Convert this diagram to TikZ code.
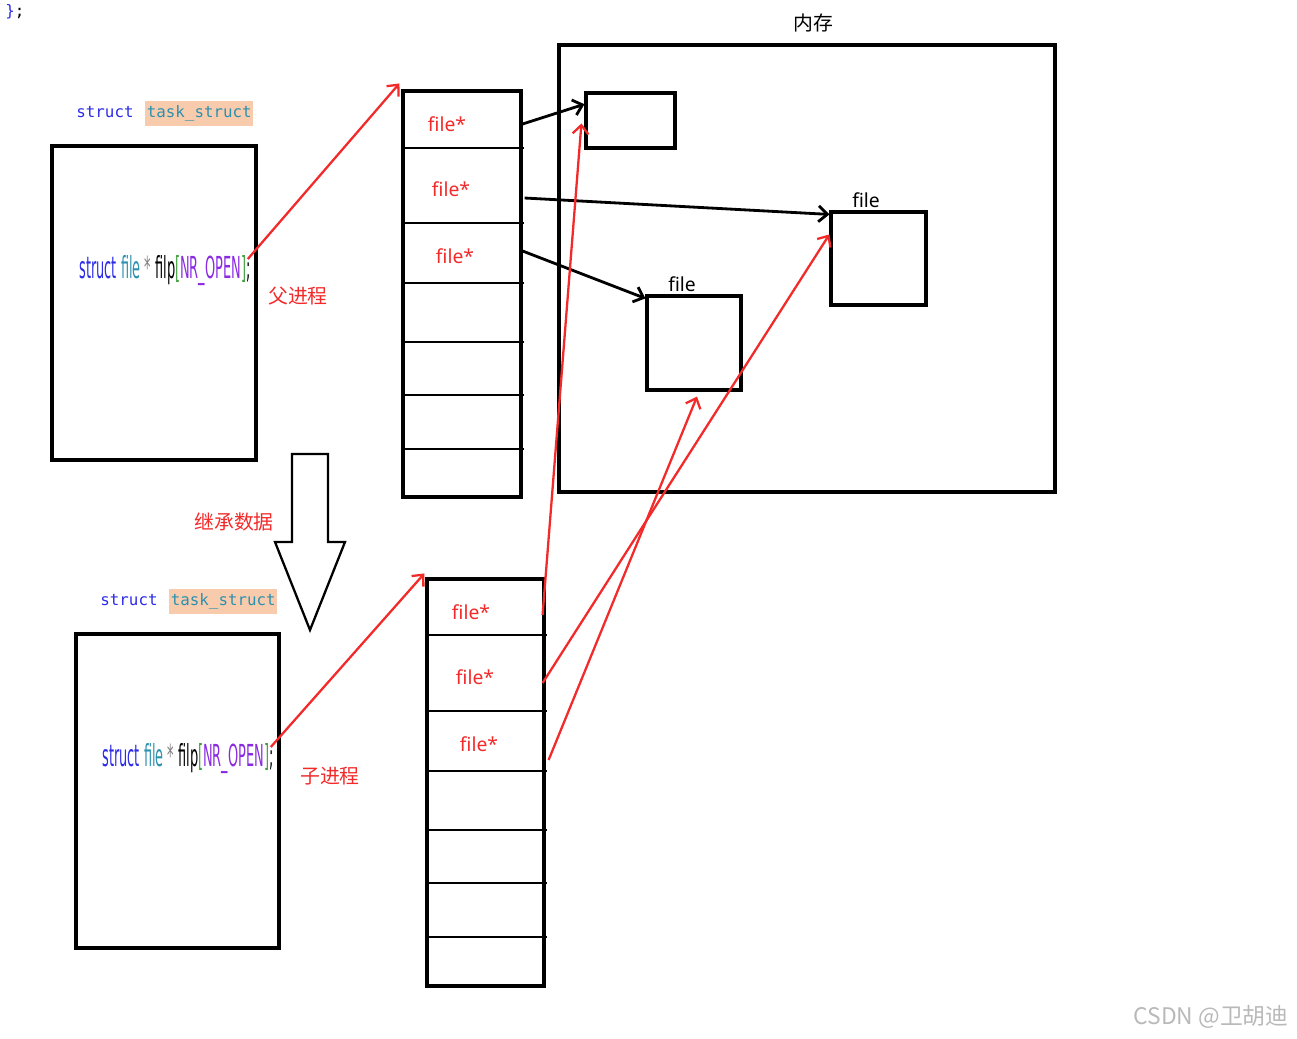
\documentclass[tikz,border=0pt]{standalone}
\usepackage{fontspec}
\usepackage{graphicx}
\setmainfont{Noto Sans}
\newfontfamily\cjk{Noto Sans CJK SC}
\newfontfamily\codefont{DejaVu Sans}
\newfontfamily\monofont{DejaVu Sans Mono}
\usetikzlibrary{arrows.meta,positioning,calc,fit}
\definecolor{cRED}{HTML}{F22A2A}
\definecolor{cKW}{HTML}{2B2BE8}
\definecolor{cTY}{HTML}{2B91AF}
\definecolor{cBG}{HTML}{F8CBAD}
\definecolor{cMAC}{HTML}{8A2BE2}
\definecolor{cBR}{HTML}{3C9E3C}
\newcommand{\filpdecl}{\scalebox{0.49}[1.15]{\codefont\fontsize{15}{15}\selectfont
  \textcolor{cKW}{struct} \textcolor{cTY}{file} \textcolor{gray}{*} filp\textcolor{cBR}{[}\textcolor{cMAC}{NR\_OPEN}\textcolor{cBR}{]};}}

\begin{document}
\begin{tikzpicture}[x=0.02cm, y=-0.02cm, line width=1.6pt,
  >={Straight Barb[length=5pt,width=9pt]},
  box/.style={draw, line width=1.8pt, inner sep=0pt},
  ptr/.style={text=cRED, font=\fontsize{11}{13}\selectfont},
  fname/.style={font=\fontsize{11}{13}\selectfont},
  zh/.style={font=\cjk\fontsize{11.3}{13}\selectfont},
  kw/.style={inner sep=0pt, text=cKW, font=\monofont\fontsize{9}{11}\selectfont},
  ty/.style={inner xsep=1pt, inner ysep=2.5pt, fill=cBG, text=cTY, font=\monofont\fontsize{9}{11}\selectfont},
  copy/.style={->, cRED, line width=1.3pt}]
\useasboundingbox (0,0) rectangle (1297,1038);
\node[anchor=north west, inner sep=0pt, font=\monofont\fontsize{9}{11}\selectfont] (brace) at (4,3) {\textcolor{cKW}{\}};};

% parent process
\node[kw] (pkw) at (105,112) {struct};
\node[ty, base right=5pt of pkw] (ptype) {task\_struct};
\node[box, fit={(52,146) (256,460)}] (pbox) {};
\node (pfilp) at (165,271) {\filpdecl};
\node[zh, text=cRED] (pname) at (298,296) {父进程};
\node[box, fit={(403,91) (521,497)}] (ptab) {};
\foreach \y in {148,223,283,342,395,449}
  \draw (403,\y) -- (524,\y);
\node[ptr] (pc1) at (447,124) {file*};
\node[ptr] (pc2) at (451,189) {file*};
\node[ptr] (pc3) at (455,256) {file*};

% memory
\node[box, fit={(559,45) (1055,492)}] (mem) {};
\node[zh] (memname) at (813,23) {内存};
\node[box, fit={(586,93) (675,148)}] (fbuf) {};
\node[box, fit={(831,212) (926,305)}] (fright) {};
\node[fname] (frightname) at (866,200) {file};
\node[box, fit={(647,296) (741,390)}] (fmid) {};
\node[fname] (fmidname) at (682,284) {file};

\draw[->] (pc1 -| ptab.east) -- ($(fbuf.north west)!0.22!(fbuf.south west)$);
\draw[->] ($(ptab.east |- pc2)+(2,9)$) -- ($(fright.north west)+(0,4)$);
\draw[->] ($(ptab.east |- pc3)+(0,-5)$) -- ($(fmid.north west)+(0,4)$);

% inherit
\draw[line width=1.3pt, line join=miter] (292,454) -- (328,454) -- (328,542) -- (345,542)
  -- (310,630) -- (275,542) -- (292,542) -- cycle;
\node[zh, text=cRED] (inherit) at (234,522) {继承数据};

% child process
\node[kw] (ckw) at (129,600) {struct};
\node[ty, base right=5pt of ckw] (ctype) {task\_struct};
\node[box, fit={(76,634) (279,948)}] (cbox) {};
\node (cfilp) at (188,759) {\filpdecl};
\node[zh, text=cRED] (cname) at (330,776) {子进程};
\node[box, fit={(427,579) (544,986)}] (ctab) {};
\foreach \y in {635,711,771,830,883,937}
  \draw (427,\y) -- (547,\y);
\node[ptr] (cc1) at (471,612) {file*};
\node[ptr] (cc2) at (475,677) {file*};
\node[ptr] (cc3) at (479,744) {file*};

\draw[copy] ($(pfilp.east)+(-10,-12)$) -- ($(ptab.north west)+(-2,-6)$);
\draw[copy] ($(cfilp.east)+(-10,-12)$) -- ($(ctab.north west)+(-1,-4)$);
\draw[copy] ($(ctab.east |- cc1)+(-3,3)$) -- ($(fbuf.north west)!0.55!(fbuf.south west)+(-3,0)$);
\draw[copy] ($(ctab.east |- cc2)+(-3,6)$) -- ($(fright.north west)+(0,24)$);
\draw[copy] ($(ctab.east |- cc3)+(3,16)$) -- ($(fmid.south)+(3,5)$);

\node[text=gray!55, font=\cjk\fontsize{13}{15}\selectfont] (mark) at (1211,1017) {CSDN @卫胡迪};
\end{tikzpicture}
\end{document}
